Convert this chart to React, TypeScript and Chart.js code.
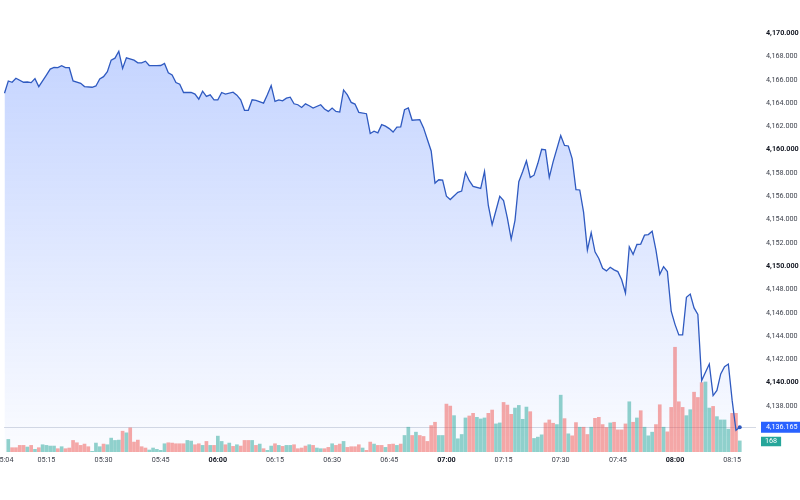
import React, { useEffect, useRef } from "react";
import { Chart, registerables } from "chart.js";

Chart.register(...registerables);

// ---------- data ----------
const SESSION_START = "05:04";
const VOLUME_START = "05:05";

const priceMinutes = [
  0, 1, 2, 3, 5, 6, 7, 8, 9, 11, 12, 13, 14, 15, 16, 17, 18, 20, 21, 23, 24, 25, 26, 27, 28, 29, 30, 31, 32, 34,
  35, 36, 37, 38, 40, 41, 42, 43, 44, 45, 46, 47, 49, 50, 51, 52, 53, 54, 55, 56, 57, 58, 60, 61, 62, 63, 64, 65, 66, 68,
  69, 70, 71, 72, 73, 74, 75, 76, 77, 78, 79, 80, 81, 83, 84, 85, 86, 87, 88, 89, 90, 91, 92, 93, 95, 96, 97, 98, 99, 100,
  101, 102, 103, 104, 105, 106, 107, 109, 110, 111, 112, 113, 114, 115, 116, 117, 119, 120, 121, 122, 123, 125, 126, 127, 128, 129, 130, 131, 132, 133,
  134, 135, 136, 137, 138, 139, 140, 141, 142, 143, 144, 146, 147, 148, 149, 150, 151, 152, 153, 154, 155, 156, 157, 158, 159, 160, 161, 162, 163, 164,
  165, 166, 167, 168, 169, 170, 171, 172, 173, 174, 175, 176, 177, 178, 179, 180, 181, 182, 183, 184, 185, 186, 187, 188, 189, 190, 191, 192, 193,
];

const prices = [
  4164.85, 4165.9, 4165.79, 4166.13, 4165.79, 4165.81, 4165.76, 4166.1, 4165.42, 4166.41, 4166.92, 4167.06, 4167.04, 4167.21, 4167.04, 4167.04, 4165.9, 4165.7, 4165.42, 4165.36, 4165.47, 4166.07, 4166.27, 4166.7, 4167.69, 4167.86, 4168.45, 4166.98, 4167.89, 4167.69,
  4167.46, 4167.46, 4167.6, 4167.23, 4167.21, 4167.23, 4167.41, 4166.61, 4166.41, 4165.76, 4165.62, 4164.91, 4164.91, 4164.77, 4164.34, 4165.02, 4164.57, 4164.71, 4164.28, 4164.28, 4164.91, 4164.77, 4164.94, 4164.68, 4164.28, 4163.38, 4163.38, 4164.28, 4164.23, 4164.0,
  4164.71, 4165.51, 4164.15, 4164.28, 4164.2, 4164.43, 4164.51, 4163.94, 4163.86, 4163.63, 4163.94, 4163.77, 4163.58, 4163.86, 4163.49, 4163.29, 4163.58, 4163.29, 4163.23, 4165.13, 4164.71, 4164.06, 4163.92, 4163.21, 4163.09, 4161.39, 4161.59, 4161.45, 4162.15, 4162.02,
  4161.81, 4161.51, 4161.93, 4161.96, 4163.43, 4163.58, 4162.53, 4162.58, 4161.87, 4160.88, 4159.89, 4157.13, 4157.42, 4157.39, 4156.0, 4155.72, 4156.34, 4156.45, 4158.04, 4157.34, 4156.85, 4156.68, 4158.13, 4155.21, 4153.56, 4154.78, 4156.0, 4155.63, 4154.13, 4152.32,
  4153.93, 4157.25, 4158.1, 4159.04, 4157.62, 4157.81, 4158.83, 4160.03, 4159.98, 4157.62, 4158.95, 4161.22, 4160.37, 4160.32, 4159.23, 4156.57, 4156.54, 4154.64, 4151.38, 4152.88, 4151.23, 4150.66, 4149.81, 4149.59, 4149.9, 4149.68, 4149.53, 4148.83, 4147.69, 4151.66,
  4151.01, 4151.86, 4151.89, 4152.66, 4152.71, 4153.0, 4151.38, 4149.3, 4149.96, 4149.53, 4146.13, 4145.0, 4144.09, 4144.09, 4147.32, 4147.6, 4146.41, 4145.85, 4140.17, 4140.88, 4141.59, 4138.89, 4139.32, 4140.74, 4141.36, 4141.59, 4138.47, 4135.91, 4136.165,
];

const volumes = [
  190, 65, 65, 100, 100, 75, 100, 40, 65, 110,
  100, 90, 90, 50, 80, 50, 60, 175, 140, 100,
  120, 80, 10, 135, 80, 120, 110, 210, 175, 180,
  315, 290, 365, 150, 180, 80, 60, 30, 60, 40,
  25, 125, 140, 135, 125, 125, 125, 175, 165, 110,
  125, 100, 160, 100, 100, 240, 160, 110, 135, 85,
  110, 90, 175, 175, 175, 100, 120, 50, 25, 90,
  125, 100, 85, 100, 100, 110, 50, 60, 90, 110,
  100, 60, 50, 50, 70, 125, 100, 120, 160, 70,
  80, 80, 110, 60, 25, 150, 120, 100, 100, 70,
  115, 120, 100, 120,
  250, 375, 250, 300, 250, 235, 160, 400, 450, 250,
  250, 725, 695, 550, 200, 265, 515, 545, 585, 525,
  500, 515, 585, 635, 425, 440, 750, 710, 570, 665,
  705, 495, 680, 610, 205, 225, 260, 440, 485, 435,
  415, 860, 505, 275, 245, 445, 375, 375, 265, 375,
  510, 525, 415, 370, 440, 450, 335, 335, 425, 760,
  450, 515, 625, 375, 245, 300, 415, 715, 375, 305,
  675, 1585, 760, 675, 550, 640, 905, 825, 1050, 1060,
  665, 690, 535, 485, 485, 345, 585, 585, 168,
];

// 1 = up (teal), 0 = down (red)
const volumeUp = [
  1, 0, 0, 0, 0, 1, 0, 1, 0, 1,
  1, 1, 1, 0, 1, 0, 0, 0, 0, 0,
  0, 0, 1, 1, 1, 0, 1, 1, 1, 1,
  0, 1, 0, 0, 0, 0, 0, 1, 1, 1,
  1, 1, 0, 0, 0, 0, 0, 1, 1, 0,
  0, 1, 0, 1, 0, 1, 1, 0, 1, 0,
  1, 0, 0, 0, 1, 0, 1, 0, 1, 1,
  0, 1, 0, 1, 1, 0, 0, 0, 0, 1,
  0, 1, 1, 0, 0, 1, 0, 0, 1, 0,
  0, 0, 0, 1, 0, 0, 1, 0, 0, 1,
  0, 0, 1, 0,
  1, 1, 0, 1, 0, 0, 0, 0, 0, 1,
  1, 0, 0, 1, 1, 1, 1, 0, 0, 1,
  1, 1, 0, 0, 1, 1, 0, 0, 0, 1,
  1, 1, 1, 0, 1, 1, 1, 0, 0, 0,
  1, 1, 0, 1, 0, 0, 1, 0, 0, 1,
  0, 0, 0, 0, 1, 0, 0, 0, 0, 1,
  0, 1, 0, 1, 1, 1, 0, 0, 1, 0,
  0, 0, 0, 0, 1, 1, 0, 0, 0, 1,
  1, 0, 1, 1, 1, 1, 0, 0, 1,
];

const timeTicks = ["05:04", "05:15", "05:30", "05:45", "06:00", "06:15", "06:30", "06:45", "07:00", "07:15", "07:30", "07:45", "08:00", "08:15"];
const priceTicks = [4138, 4140, 4142, 4144, 4146, 4148, 4150, 4152, 4154, 4156, 4158, 4160, 4162, 4164, 4166, 4168, 4170];

// ---------- helpers ----------
const toMin = (s: string) => {
  const [h, m] = s.split(":").map(Number);
  return h * 60 + m;
};
const fmtTime = (v: number) => {
  const h = Math.floor(v / 60);
  const m = Math.round(v - h * 60);
  return String(h).padStart(2, "0") + ":" + String(m).padStart(2, "0");
};
const fmtPrice = (v: number) =>
  v.toLocaleString("en-US", { minimumFractionDigits: 3, maximumFractionDigits: 3 });

const FONT = "Roboto, 'Liberation Sans', sans-serif";
const FONT_SIZE = 7.2;
const LINE_COLOR = "#2f5ac0";
const UP_COLOR = "rgba(38,166,154,0.5)";
const DOWN_COLOR = "rgba(239,83,80,0.5)";

export default function App() {
  const canvasRef = useRef<HTMLCanvasElement | null>(null);

  useEffect(() => {
    const canvas = canvasRef.current;
    if (!canvas) return;
    const start = toMin(SESSION_START);
    const vStart = toMin(VOLUME_START);
    const linePts = priceMinutes.map((m, i) => ({ x: start + m, y: prices[i] }));
    const volPts = volumes.map((v, i) => ({ x: vStart + i, y: v }));
    const lastIdx = linePts.length - 1;
    const lastPrice = prices[prices.length - 1];
    const lastVol = volumes[volumes.length - 1];

    const overlay = {
      id: "overlay",
      beforeDatasetsDraw(chart: any) {
        const { ctx, chartArea } = chart;
        const y = chart.scales.y.getPixelForValue(lastPrice);
        ctx.save();
        ctx.strokeStyle = "rgba(160,170,195,0.45)";
        ctx.lineWidth = 1;
        ctx.beginPath();
        ctx.moveTo(chartArea.left, Math.round(y) + 0.5);
        ctx.lineTo(chartArea.right, Math.round(y) + 0.5);
        ctx.stroke();
        ctx.restore();
      },
      afterDraw(chart: any) {
        const { ctx, chartArea } = chart;
        const y = chart.scales.y.getPixelForValue(lastPrice);
        const left = chartArea.right + 5;
        ctx.save();
        ctx.font = `${FONT_SIZE}px ${FONT}`;
        ctx.textBaseline = "middle";
        ctx.fillStyle = "#2962ff";
        ctx.fillRect(left, y - 5.5, 800 - left, 11);
        ctx.fillStyle = "#ffffff";
        ctx.fillText(fmtPrice(lastPrice), left + 5, y);
        const vt = String(lastVol);
        const w = ctx.measureText(vt).width + 8;
        ctx.fillStyle = "#26a69a";
        ctx.fillRect(left, y + 9.5, w, 9.5);
        ctx.fillStyle = "#ffffff";
        ctx.fillText(vt, left + 4, y + 14.3);
        ctx.restore();
      },
    };

    const chart = new Chart(canvas, {
      type: "line",
      data: {
        datasets: [
          {
            type: "line",
            data: linePts,
            borderColor: LINE_COLOR,
            borderWidth: 1.3,
            tension: 0,
            fill: "start",
            backgroundColor: (c: any) => {
              const { chart: ch } = c;
              const area = ch.chartArea;
              if (!area) return "rgba(41,98,255,0.15)";
              const g = ch.ctx.createLinearGradient(0, area.top, 0, area.bottom);
              g.addColorStop(0, "rgba(41,98,255,0.30)");
              g.addColorStop(1, "rgba(41,98,255,0.02)");
              return g;
            },
            pointRadius: (c: any) => (c.dataIndex === lastIdx ? 2 : 0),
            pointBackgroundColor: LINE_COLOR,
            pointBorderWidth: 0,
            yAxisID: "y",
            order: 1,
          } as any,
          {
            type: "bar",
            data: volPts,
            backgroundColor: volumeUp.map((u) => (u ? UP_COLOR : DOWN_COLOR)),
            barThickness: 3,
            yAxisID: "yVol",
            order: 2,
          } as any,
        ],
      },
      options: {
        animation: false,
        responsive: false,
        events: [],
        layout: { padding: 0 },
        plugins: {
          legend: { display: false },
          tooltip: { enabled: false },
          filler: { drawTime: "beforeDatasetsDraw" },
        } as any,
        scales: {
          x: {
            type: "linear",
            offset: false,
            min: start - 0.13,
            max: start + 197.26,
            grid: { display: false, drawTicks: false, offset: false },
            border: { display: false },
            afterBuildTicks: (s: any) => {
              s.ticks = timeTicks.map((t) => ({ value: toMin(t) }));
            },
            afterFit: (s: any) => {
              s.height = 48;
              s.paddingLeft = 0;
              s.paddingRight = 0;
            },
            ticks: {
              autoSkip: false,
              maxRotation: 0,
              padding: 4,
              callback: (v: any) => fmtTime(Number(v)),
              color: (c: any) => (c.tick && c.tick.value % 60 === 0 ? "#131722" : "#3b3f4a"),
              font: (c: any) => ({
                family: FONT,
                size: FONT_SIZE,
                weight: c.tick && c.tick.value % 60 === 0 ? "bold" : "normal",
              }),
            },
          },
          y: {
            position: "right",
            min: 4134.04,
            max: 4172.51,
            grid: { display: false, drawTicks: false },
            border: { display: false },
            afterBuildTicks: (s: any) => {
              s.ticks = priceTicks.map((v) => ({ value: v }));
            },
            afterFit: (s: any) => {
              s.width = 44;
              s.paddingTop = 0;
              s.paddingBottom = 0;
            },
            ticks: {
              padding: 10,
              callback: (v: any) => fmtPrice(Number(v)),
              color: (c: any) => (c.tick && c.tick.value % 10 === 0 ? "#131722" : "#3b3f4a"),
              font: (c: any) => ({
                family: FONT,
                size: FONT_SIZE,
                weight: c.tick && c.tick.value % 10 === 0 ? "bold" : "normal",
              }),
            },
          },
          yVol: {
            display: false,
            min: 0,
            max: 6780,
          },
        },
      } as any,
      plugins: [overlay],
    });

    return () => chart.destroy();
  }, []);

  return (
    <div style={{ position: "absolute", left: 0, top: 0, width: 800, height: 500, background: "#ffffff" }}>
      <canvas ref={canvasRef} width={800} height={500} style={{ display: "block", width: 800, height: 500 }} />
    </div>
  );
}
